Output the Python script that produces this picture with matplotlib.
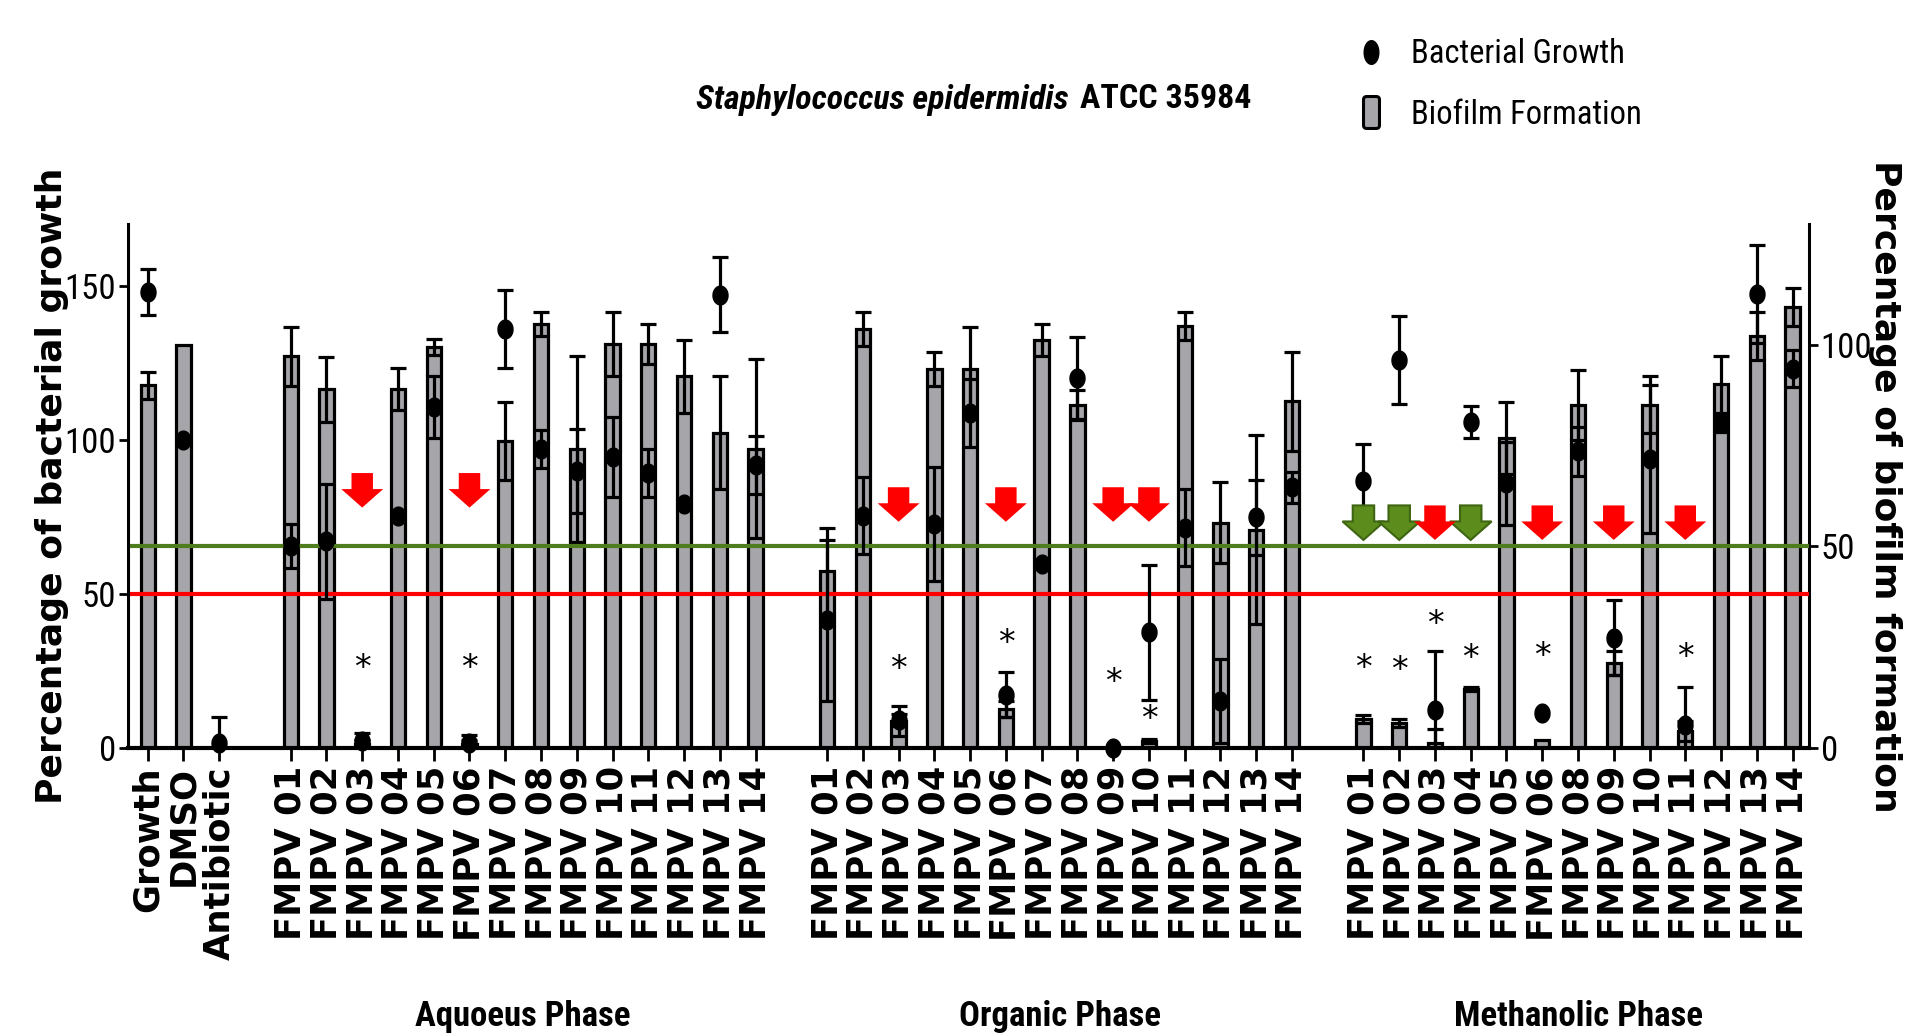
import numpy as np
import matplotlib
matplotlib.use('Agg')
import matplotlib.pyplot as plt
from matplotlib import font_manager
from matplotlib.path import Path
from matplotlib.patches import Polygon, FancyBboxPatch
from matplotlib.lines import Line2D
import matplotlib.transforms as mtransforms

# ---------------- data ----------------
controls = ['Growth', 'DMSO', 'Antibiotic']
aq_ids = ['01', '02', '03', '04', '05', '06', '07', '08', '09', '10', '11', '12', '13', '14']
org_ids = ['01', '02', '03', '04', '05', '06', '07', '08', '09', '10', '11', '12', '13', '14']
meth_ids = ['01', '02', '03', '04', '05', '06', '08', '09', '10', '11', '12', '13', '14']
phase_names = ['Aquoeus Phase', 'Organic Phase', 'Methanolic Phase']

# bacterial growth (%; left axis) and SEM
control_growth = [148, 100, 1.5]
control_growth_err = [7.4, 0, 8.5]
aq_growth = [65.6, 67, 2.2, 75.4, 110.7, 1.6, 136, 97, 89.8, 94.4, 89.2, 79.3, 147, 91.8]
aq_growth_err = [7.2, 18.5, 2.6, 0, 10, 2.5, 12.7, 6.2, 13.7, 13, 7.8, 0, 12.2, 9.3]
org_growth = [41.4, 75.4, 9, 72.8, 108.8, 17.3, 59.7, 119.9, 0, 37.5, 71.5, 15.3, 74.8, 84.6]
org_growth_err = [26, 12.4, 2, 18.5, 11, 7.2, 0, 13.4, 0, 22, 12.4, 13.7, 12.3, 5]
meth_growth = [86.5, 125.8, 12.3, 105.9, 85.9, 11.4, 96.3, 35.8, 93.7, 7.5, 105.5, 147.3, 123]
meth_growth_err = [12.1, 14.2, 19.3, 5.2, 13.4, 0, 8, 12.2, 24, 12.4, 3, 16, 6]

# biofilm formation (%; right axis) and SEM
control_biofilm = [90, 100, 0]
control_biofilm_err = [3.3, 0, 0]
aq_biofilm = [97.2, 89, 1, 89, 99.4, 1, 76.2, 105.2, 74.2, 100.2, 100.2, 92.2, 78.2, 74.2]
aq_biofilm_err = [7.3, 8, 1, 5.2, 2, 1, 9.7, 3, 23, 8, 5, 9, 14, 22.2]
org_biofilm = [44, 104, 6.7, 94, 94, 9.7, 101.2, 85.2, 0, 1.7, 104.7, 55.9, 54.2, 86]
org_biofilm_err = [10.7, 4.2, 3.7, 4.2, 10.5, 2, 4, 3.5, 0, 0.5, 3.5, 10, 23.5, 12.2]
meth_biofilm = [7.2, 6.2, 1.2, 14.7, 77, 1.9, 85.2, 21, 85.2, 4.2, 90.2, 102.2, 109.4]
meth_biofilm_err = [1, 1, 3.5, 0.5, 8.9, 0, 8.7, 3, 7, 2.5, 7, 6, 4.8]

# significance marks: (phase index, sample id, height on growth axis)
asterisk_phase = [0, 0, 1, 1, 1, 1, 2, 2, 2, 2, 2, 2]
asterisk_id = ['03', '06', '03', '06', '09', '10', '01', '02', '03', '04', '06', '11']
asterisk_y = [25.7, 25.7, 25.4, 33.9, 21.2, 9.4, 25.7, 25.2, 40.1, 29, 29.7, 29.4]

# arrows: (phase index, sample id)
red_arrow_phase = [0, 0, 1, 1, 1, 1, 2, 2, 2, 2]
red_arrow_id = ['03', '06', '03', '06', '09', '10', '03', '06', '09', '11']
green_arrow_phase = [2, 2, 2]
green_arrow_id = ['01', '02', '04']

growth_threshold = 50   # left axis
biofilm_threshold = 50  # right axis

# ---------------- styling ----------------
names = {f.name for f in font_manager.fontManager.ttflist}
NARROW = next((n for n in ['Roboto Condensed', 'Archivo Narrow', 'PT Sans Narrow', 'Liberation Sans']
               if n in names), 'DejaVu Sans')
WIDE = 'DejaVu Sans'

BAR_GRAY = '#a5a5aa'
RED = '#ff0000'
GREEN_LINE = '#4f7d1d'
GREEN_FILL = '#5b8c1c'
GREEN_EDGE = '#3e6512'
arrow_top = [89.2, 84.6, 78.7]  # per phase, growth-axis units
SHAFT_LEN, HEAD_LEN = 5.2, 6.0
SHAFT_HW, HEAD_HW = 0.30, 0.585

W, H = 1932, 1036
fig = plt.figure(figsize=(W / 100, H / 100), dpi=100)
ax_l, ax_r, ax_b, ax_t = 128, 1809, 748, 224
ax = fig.add_axes([ax_l / W, 1 - ax_b / H, (ax_r - ax_l) / W, (ax_b - ax_t) / H])
ax2 = ax.twinx()
ax.set_zorder(ax2.get_zorder() + 1)
ax.patch.set_visible(False)

# positions
groups = [aq_ids, org_ids, meth_ids]
pos_controls = np.arange(len(controls))
offset = len(controls) + 1
group_pos = []
for ids in groups:
    group_pos.append(offset + np.arange(len(ids)))
    offset += len(ids) + 1
positions = np.concatenate([pos_controls] + group_pos)
labels = controls + ['FMPV ' + i for ids in groups for i in ids]

growth = np.array(control_growth + aq_growth + org_growth + meth_growth, float)
growth_err = np.array(control_growth_err + aq_growth_err + org_growth_err + meth_growth_err, float)
biofilm = np.array(control_biofilm + aq_biofilm + org_biofilm + meth_biofilm, float)
biofilm_err = np.array(control_biofilm_err + aq_biofilm_err + org_biofilm_err + meth_biofilm_err, float)

def xpos(phase, sid):
    return group_pos[phase][groups[phase].index(sid)]

LW = 2.3
# bars (biofilm) on right axis
ax2.bar(positions, biofilm, width=0.40, color=BAR_GRAY, edgecolor='black', linewidth=LW, zorder=2)
m = biofilm_err > 0
ax2.errorbar(positions[m], biofilm[m], yerr=biofilm_err[m], fmt='none', ecolor='black',
             elinewidth=LW, capsize=5.8, capthick=LW, zorder=3)
ax2.axhline(biofilm_threshold, color=GREEN_LINE, lw=3.0, zorder=4)

# dots (growth) on left axis
ax.axhline(growth_threshold, color=RED, lw=3.0, zorder=1)
m = growth_err > 0
ax.errorbar(positions[m], growth[m], yerr=growth_err[m], fmt='none', ecolor='black',
            elinewidth=LW, capsize=5.8, capthick=LW, zorder=5)
t = np.linspace(0, 2 * np.pi, 60)
ellipse = Path(np.column_stack([np.cos(t) * 0.8, np.sin(t)]))
ax.plot(positions, growth, linestyle='none', marker=ellipse, markersize=13.5,
        color='black', zorder=6, clip_on=False)

# arrows
def arrow(c, top, fc, ec, lw):
    v = [(c - SHAFT_HW, top), (c + SHAFT_HW, top), (c + SHAFT_HW, top - SHAFT_LEN),
         (c + HEAD_HW, top - SHAFT_LEN), (c, top - SHAFT_LEN - HEAD_LEN),
         (c - HEAD_HW, top - SHAFT_LEN), (c - SHAFT_HW, top - SHAFT_LEN)]
    ax.add_patch(Polygon(v, closed=True, facecolor=fc, edgecolor=ec, lw=lw, zorder=7))

for p, s in zip(green_arrow_phase, green_arrow_id):
    arrow(xpos(p, s), arrow_top[p], GREEN_FILL, GREEN_EDGE, 1.5)
for p, s in zip(red_arrow_phase, red_arrow_id):
    arrow(xpos(p, s), arrow_top[p], RED, 'none', 0)

for p, s, y in zip(asterisk_phase, asterisk_id, asterisk_y):
    ax.text(xpos(p, s), y, '*', ha='center', va='center', fontsize=24,
            family=WIDE, zorder=8)

# axes
ax.set_xlim(-0.55, 46.46)
ax.set_ylim(0, 170)
ax2.set_ylim(0, 130)
ax.set_yticks([0, 50, 100, 150])
ax2.set_yticks([0, 50, 100])
ax.set_xticks(positions)
ax.set_xticklabels(labels, rotation=90, fontsize=25.5, fontweight='bold', family=WIDE)
ax.tick_params(axis='x', length=9, width=2.0, pad=4)
ax.tick_params(axis='y', length=6.5, width=2.0, pad=2, labelsize=25)
ax2.tick_params(axis='y', length=6.5, width=2.0, pad=2, labelsize=25)
for lab in ax.get_yticklabels() + ax2.get_yticklabels():
    lab.set_family(NARROW)
for a in (ax, ax2):
    a.spines['top'].set_visible(False)
ax.spines['right'].set_visible(False)
ax2.spines['left'].set_visible(False)
ax2.spines['bottom'].set_visible(False)
ax.spines['left'].set_linewidth(2.2)
ax2.spines['right'].set_linewidth(2.2)
ax.spines['bottom'].set_linewidth(3.0)

fig.text(52 / W, 0.531, 'Percentage of bacterial growth', rotation=90, ha='center', va='center',
         fontsize=26, fontweight='bold', family=WIDE)
fig.text(1885 / W, 0.531, 'Percentage of biofilm formation', rotation=-90, ha='center', va='center',
         fontsize=26, fontweight='bold', family=WIDE)

# title
fig.text(1069 / W, 1 - 108.5 / H, 'Staphylococcus epidermidis', ha='right', va='baseline',
         fontsize=24.5, fontweight='bold', fontstyle='italic', family=NARROW)
fig.text(1080 / W, 1 - 108.5 / H, 'ATCC 35984', ha='left', va='baseline',
         fontsize=24.5, fontweight='bold', family=NARROW)

# phase labels
trans = mtransforms.blended_transform_factory(ax.transData, fig.transFigure)
for gp, name in zip(group_pos, phase_names):
    ax.text((gp[0] + gp[-1]) / 2, 0.019, name, transform=trans, ha='center', va='center',
            fontsize=25, fontweight='bold', family=NARROW)

# legend
rr = FancyBboxPatch((-0.25, -0.5), 0.5, 1.0, boxstyle='round,pad=0,rounding_size=0.1').get_path()
leg_ellipse = Path(np.column_stack([np.cos(t) * 0.62, np.sin(t)]))
handles = [Line2D([], [], linestyle='none', marker=leg_ellipse, markersize=17, color='black'),
           Line2D([], [], linestyle='none', marker=rr, markersize=23, markerfacecolor=BAR_GRAY,
                  markeredgecolor='black', markeredgewidth=2.2)]
fig.legend(handles, ['Bacterial Growth', 'Biofilm Formation'], loc='upper left',
           bbox_to_anchor=(1338 / W, 1 - 22 / H), frameon=False, borderpad=0,
           handlelength=1.0, handletextpad=0.73, labelspacing=0.87,
           prop={'family': NARROW, 'size': 23.5})

fig.savefig('out.png', dpi=100)
